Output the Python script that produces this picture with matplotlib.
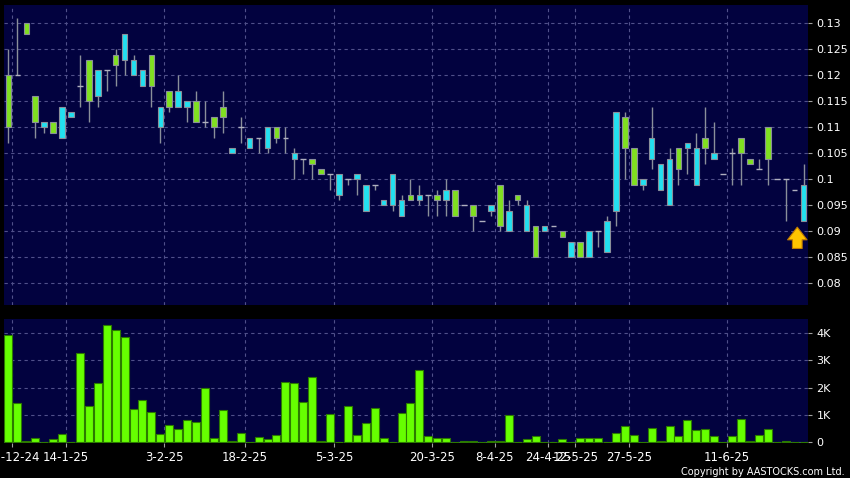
import numpy as np
import matplotlib
matplotlib.use("Agg")
import matplotlib.pyplot as plt
from matplotlib.patches import FancyArrowPatch

opens = [0.120, 0.120, 0.130, 0.116, 0.110, 0.111, 0.108, 0.112, 0.118, 0.123,
         0.116, 0.121, 0.124, 0.123, 0.120, 0.118, 0.124, 0.110, 0.117, 0.114,
         0.114, 0.115, 0.111, 0.112, 0.114, 0.105, 0.110, 0.106, 0.108, 0.106,
         0.110, 0.108, 0.104, 0.104, 0.104, 0.102, 0.101, 0.097, 0.100, 0.100,
         0.094, 0.099, 0.095, 0.095, 0.093, 0.097, 0.096, 0.097, 0.097, 0.096,
         0.098, 0.095, 0.095, 0.092, 0.094, 0.099, 0.090, 0.097, 0.090, 0.091,
         0.090, 0.091, 0.090, 0.085, 0.088, 0.085, 0.090, 0.086, 0.094, 0.112,
         0.106, 0.099, 0.104, 0.098, 0.095, 0.106, 0.106, 0.099, 0.108, 0.104,
         0.101, 0.105, 0.108, 0.104, 0.102, 0.110, 0.100, 0.100, 0.098, 0.092]
highs = [0.125, 0.131, 0.130, 0.116, 0.111, 0.111, 0.114, 0.113, 0.124, 0.123,
         0.121, 0.121, 0.125, 0.128, 0.124, 0.121, 0.124, 0.114, 0.117, 0.120,
         0.115, 0.117, 0.115, 0.112, 0.117, 0.106, 0.112, 0.108, 0.108, 0.110,
         0.110, 0.110, 0.106, 0.104, 0.104, 0.102, 0.101, 0.101, 0.100, 0.101,
         0.099, 0.099, 0.096, 0.101, 0.097, 0.100, 0.099, 0.097, 0.098, 0.100,
         0.098, 0.095, 0.095, 0.092, 0.095, 0.099, 0.096, 0.097, 0.096, 0.091,
         0.091, 0.091, 0.090, 0.088, 0.088, 0.090, 0.090, 0.093, 0.113, 0.113,
         0.106, 0.100, 0.114, 0.103, 0.106, 0.106, 0.107, 0.109, 0.114, 0.111,
         0.101, 0.106, 0.108, 0.104, 0.104, 0.110, 0.100, 0.100, 0.098, 0.103]
lows = [0.107, 0.120, 0.128, 0.108, 0.109, 0.109, 0.108, 0.112, 0.114, 0.111,
        0.114, 0.117, 0.118, 0.120, 0.120, 0.118, 0.114, 0.107, 0.113, 0.114,
        0.111, 0.111, 0.110, 0.108, 0.109, 0.105, 0.107, 0.106, 0.105, 0.105,
        0.107, 0.105, 0.100, 0.101, 0.100, 0.101, 0.098, 0.096, 0.099, 0.097,
        0.094, 0.098, 0.095, 0.094, 0.093, 0.096, 0.095, 0.093, 0.093, 0.093,
        0.093, 0.095, 0.090, 0.092, 0.093, 0.090, 0.090, 0.095, 0.090, 0.085,
        0.090, 0.091, 0.089, 0.085, 0.085, 0.085, 0.087, 0.086, 0.091, 0.100,
        0.099, 0.098, 0.102, 0.098, 0.095, 0.099, 0.101, 0.099, 0.103, 0.104,
        0.101, 0.099, 0.099, 0.103, 0.102, 0.099, 0.100, 0.092, 0.098, 0.092]
closes = [0.110, 0.120, 0.128, 0.111, 0.111, 0.109, 0.114, 0.113, 0.118, 0.115,
          0.121, 0.121, 0.122, 0.128, 0.123, 0.121, 0.118, 0.114, 0.114, 0.117,
          0.115, 0.111, 0.111, 0.110, 0.112, 0.106, 0.110, 0.108, 0.108, 0.110,
          0.108, 0.108, 0.105, 0.104, 0.103, 0.101, 0.101, 0.101, 0.100, 0.101,
          0.099, 0.099, 0.096, 0.101, 0.096, 0.096, 0.097, 0.097, 0.096, 0.098,
          0.093, 0.095, 0.093, 0.092, 0.095, 0.091, 0.094, 0.096, 0.095, 0.085,
          0.091, 0.091, 0.089, 0.088, 0.085, 0.090, 0.090, 0.092, 0.113, 0.106,
          0.099, 0.100, 0.108, 0.103, 0.104, 0.102, 0.107, 0.106, 0.106, 0.105,
          0.101, 0.105, 0.105, 0.103, 0.102, 0.104, 0.100, 0.100, 0.098, 0.099]
# volume in thousands of shares
volume = [3.92, 1.42, 0.05, 0.15, 0.01, 0.11, 0.29, 0.01, 3.27, 1.32,
          2.16, 4.30, 4.12, 3.87, 1.21, 1.54, 1.10, 0.28, 0.63, 0.48,
          0.79, 0.74, 1.99, 0.13, 1.19, 0.02, 0.33, 0.0, 0.19, 0.11,
          0.25, 2.20, 2.16, 1.45, 2.38, 0.05, 1.03, 0.0, 1.32, 0.24,
          0.68, 1.24, 0.16, 0.0, 1.08, 1.44, 2.63, 0.20, 0.13, 0.16,
          0.0, 0.02, 0.02, 0.0, 0.03, 0.05, 1.00, 0.0, 0.10, 0.20,
          0.0, 0.0, 0.10, 0.0, 0.13, 0.13, 0.13, 0.0, 0.33, 0.57,
          0.27, 0.0, 0.50, 0.03, 0.57, 0.20, 0.82, 0.42, 0.48, 0.23,
          0.0, 0.20, 0.83, 0.02, 0.27, 0.48, 0.0, 0.04, 0.0, 0.01]
date_idx = [0, 6, 17, 26, 36, 47, 54, 60, 63, 69, 80]
date_labels = ["30-12-24", "14-1-25", "3-2-25", "18-2-25", "5-3-25", "20-3-25",
               "8-4-25", "24-4-25", "12-5-25", "27-5-25", "11-6-25"]

bg = "#02023f"
up_col = "#22e0f0"
down_col = "#80e020"
edge_col = "#8a8f9a"
grid_col = "#50508a"

o = np.array(opens)
h = np.array(highs)
l = np.array(lows)
c = np.array(closes)
x = np.arange(len(o))
doji = np.isclose(o, c)

fig = plt.figure(figsize=(8.5, 4.78), dpi=100, facecolor="black")
ax1 = fig.add_axes([4/850, 1-305/478, 804/850, 300/478], facecolor=bg)
ax2 = fig.add_axes([4/850, 1-443/478, 804/850, 124/478], facecolor=bg, sharex=ax1)

# wicks
ax1.vlines(x, l, h, color=edge_col, lw=1, zorder=2)
# doji
ax1.hlines(c[doji], x[doji]-0.32, x[doji]+0.32, color="#b0b0c0", lw=1, zorder=3)
# bodies
nd = ~doji
cols = np.where(c > o, up_col, down_col)
ax1.bar(x[nd], np.abs(c-o)[nd], bottom=np.minimum(o, c)[nd], width=0.62,
        color=cols[nd], edgecolor=edge_col, linewidth=0.8, zorder=3)

# up arrow under the last candle
arr = FancyArrowPatch((x[-1]-0.7, l[-1]-0.0053), (x[-1]-0.7, l[-1]-0.0012),
                      arrowstyle="simple,head_length=0.65,head_width=1.0,tail_width=0.5",
                      mutation_scale=14, facecolor="#ffc400", edgecolor="#c07a00",
                      lw=0.8, zorder=5, clip_on=False, shrinkA=0, shrinkB=0)
ax1.add_patch(arr)

ax1.set_ylim(0.07583, 0.13352)
yt = np.arange(0.08, 0.1301, 0.005)
ax1.set_yticks(yt)
ax1.set_yticklabels(["{:g}".format(round(v, 3)) for v in yt])

ax2.bar(x, volume, width=0.9, color="#66ff00", edgecolor="#2c7a00", linewidth=0.8, zorder=3)
ax2.set_ylim(-0.04, 4.52)
ax2.set_yticks([0, 1, 2, 3, 4])
ax2.set_yticklabels(["0", "1K", "2K", "3K", "4K"])

ticks = [i + 0.45 for i in date_idx]
ax2.set_xticks(ticks)
ax2.set_xticklabels(date_labels)
ax1.set_xlim(-0.5, 89.5)

for ax in (ax1, ax2):
    for s in ax.spines.values():
        s.set_visible(False)
    ax.yaxis.tick_right()
    ax.tick_params(axis="y", colors="#a0a0a0", labelcolor="white", length=3,
                   width=0.8, pad=3, labelsize=8)
    ax.grid(True, color=grid_col, linestyle=(0, (3, 3)), linewidth=0.8)
    ax.set_axisbelow(True)

ax1.tick_params(axis="x", length=0, labelbottom=False)
ax2.tick_params(axis="x", colors="#a0a0a0", labelcolor="white", length=3,
                width=0.8, pad=3, labelsize=8.5)

fig.text(0.994, 1-472/478, "Copyright by AASTOCKS.com Ltd.", color="white",
         fontsize=7, ha="right", va="center")

fig.savefig("out.png", dpi=100, facecolor="black")
